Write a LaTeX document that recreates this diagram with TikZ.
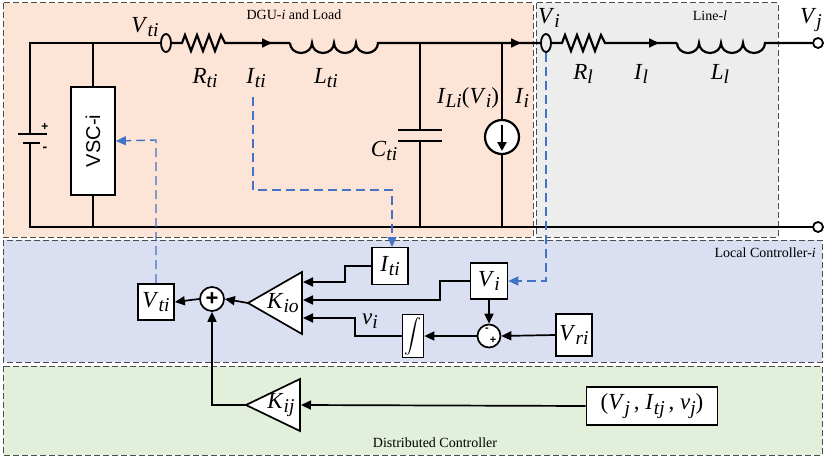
\documentclass[tikz,border=0pt]{standalone}
\usepackage{fontspec}
\setmainfont{Liberation Serif}
\newfontfamily\sansf{Liberation Sans}
\usetikzlibrary{arrows.meta}
\newcommand{\vs}[2]{\textit{#1}\raisebox{-0.4ex}{\scalebox{0.85}{\textit{#2}}}}
\begin{document}
\begin{tikzpicture}[x=1pt,y=-1pt,
  w/.style={line width=2.2pt},
  a/.style={line width=1.7pt,-{Triangle[length=10pt,width=9pt]}},
  bl/.style={draw={rgb,255:red,68;green,114;blue,196},line width=1.4pt,dash pattern=on 9pt off 5pt},
  bla/.style={bl,-{Triangle[length=10pt,width=9pt]}},
  reg/.style={draw=black!70,line width=1pt,dash pattern=on 6pt off 3pt},
  blk/.style={draw,line width=1.7pt,fill=white,inner sep=0pt},
  lb/.style={font=\fontsize{23}{23}\selectfont,inner sep=0pt},
  sm/.style={font=\fontsize{14}{14}\selectfont,inner sep=0pt}]
\useasboundingbox (0,0) rectangle (830,460);
% regions
\path[reg,fill={rgb,255:red,252;green,228;blue,214}] (3,3) rectangle (533,237);
\path[reg,fill={rgb,255:red,237;green,237;blue,237}] (536,3) rectangle (778,237);
\path[reg,fill={rgb,255:red,218;green,224;blue,242}] (3,240) rectangle (822,362);
\path[reg,fill={rgb,255:red,226;green,239;blue,218}] (3,366) rectangle (822,455);
\node[sm] (tdgu) at (294,15) {DGU-\textit{i} and Load};
\node[sm] (tline) at (710,16) {Line-\textit{l}};
\node[sm,anchor=east] (tloc) at (816,253) {Local Controller-\textit{i}};
\node[sm] (tdist) at (435,443) {Distributed Controller};
% coordinates
\coordinate (tl) at (30,43); \coordinate (bl) at (30,227);
\coordinate (tj) at (818,43); \coordinate (bj) at (818,227);
% wires
\draw[w] (30,134) -- (tl) -- (161,43);
\draw[w] (30,143) -- (bl) -- (812,227);
\draw[w] (18,134) -- (47,134);
\draw[w] (23,143) -- (40,143);
\node[font=\sansf\bfseries\fontsize{12}{12}\selectfont,inner sep=0pt] (plus) at (45,127) {+};
\node[font=\sansf\bfseries\fontsize{14}{14}\selectfont,inner sep=0pt] (minus) at (45,149) {-};
\node[blk,minimum width=108pt,minimum height=44pt,rotate=90,font=\sansf\fontsize{20}{20}\selectfont] (vsc) at (93,141) {VSC-i};
\draw[w] (93,43) -- (vsc.east); \draw[w] (vsc.west) -- (93,227);
% sensor Vti
\draw[line width=1.8pt] (166,43) ellipse (5 and 9);
\draw[w] (171,43) -- (182,43) -- (185,35) -- (191,51) -- (197,35) -- (203,51) -- (209,35) -- (215,51) -- (221,35) -- (225,43) -- (290,43);
\draw[a] (225,43) -- (272,43);
\draw[w] (290,43) arc(180:0:11 and 10) arc(180:0:11 and 10) arc(180:0:11 and 10) arc(180:0:11 and 10) -- (541,43);
\node[lb] (lvti) at (145,27) {\vs{V}{ti}};
\node[lb] (lrti) at (205,78) {\vs{R}{ti}};
\node[lb] (liti) at (256,78) {\vs{I}{ti}};
\node[lb] (llti) at (326,78) {\vs{L}{ti}};
% capacitor
\draw[w] (420,43) -- (420,130); \draw[w] (420,141) -- (420,227);
\draw[w] (398,130) -- (442,130); \draw[w] (398,141) -- (442,141);
\node[lb] (lcti) at (384,151) {\vs{C}{ti}};
% current source
\node[draw,circle,line width=2.2pt,minimum size=34pt,fill=white,inner sep=0pt] (cs) at (502,137) {};
\draw[w] (502,43) -- (cs.north); \draw[w] (cs.south) -- (502,227);
\draw[line width=2.2pt,-{Triangle[length=9pt,width=9pt]}] (502,125) -- (502,151);
\node[lb] (lili) at (468,98) {\vs{I}{Li}(\vs{V}{i})};
\node[lb] (lii) at (522,98) {\vs{I}{i}};
\draw[a] (480,43) -- (521,43);
% line
\draw[line width=1.8pt] (546,43) ellipse (5 and 9);
\draw[w] (551,43) -- (562,43) -- (565,35) -- (571,51) -- (577,35) -- (583,51) -- (589,35) -- (595,51) -- (601,35) -- (605,43) -- (677,43);
\draw[a] (605,43) -- (659,43);
\draw[w] (677,43) arc(180:0:11 and 10) arc(180:0:11 and 10) arc(180:0:11 and 10) arc(180:0:11 and 10) -- (812,43);
\draw[line width=1.8pt,fill=white] (tj) circle (5);
\draw[line width=1.8pt,fill=white] (bj) circle (5);
\node[lb] (lvi) at (549,18) {\vs{V}{i}};
\node[lb] (lrl) at (583,74) {\vs{R}{l}};
\node[lb] (lil) at (641,74) {\vs{I}{l}};
\node[lb] (lll) at (720,74) {\vs{L}{l}};
\node[lb] (lvj) at (811,20) {\vs{V}{j}};
% controller blocks
\node[blk,minimum width=36pt,minimum height=37pt,lb] (biti) at (390,266) {\vs{I}{ti}};
\node[blk,minimum width=37pt,minimum height=36pt,lb] (bvi) at (489,281) {\vs{V}{i}};
\node[blk,minimum width=36pt,minimum height=36pt,lb] (bvti) at (156,302) {\vs{V}{ti}};
\node[blk,minimum width=21pt,minimum height=43pt] (bint) at (413,336) {\scalebox{1.7}{$\displaystyle\int$}};
\node[blk,minimum width=36pt,minimum height=42pt,lb] (bvri) at (574,335) {\vs{V}{ri}};
\node[blk,minimum width=131pt,minimum height=38pt,lb] (bvj) at (652,406) {(\vs{V}{j}\,, \vs{I}{tj}\,, \vs{v}{j})};
\node[draw,circle,line width=1.7pt,minimum size=24pt,fill=white,inner sep=0pt,font=\sansf\bfseries\fontsize{22}{22}\selectfont] (sum) at (212,299) {+};
\node[draw,circle,line width=1.7pt,minimum size=23pt,fill=white,inner sep=0pt] (sub) at (489,336) {};
\node[font=\sansf\bfseries\fontsize{11}{11}\selectfont,inner sep=0pt] (subm) at (487,330) {-};
\node[font=\sansf\bfseries\fontsize{11}{11}\selectfont,inner sep=0pt] (subp) at (493,340) {+};
\draw[line width=1.7pt,fill=white] (248,303) -- (302,272) -- (302,334) -- cycle;
\node[lb] (kio) at (283,303) {\vs{K}{io}};
\coordinate (kiot) at (248,303);
\draw[line width=1.7pt,fill=white] (246,405) -- (300,379) -- (300,431) -- cycle;
\node[lb] (kij) at (281,405) {\vs{K}{ij}};
\coordinate (kijt) at (246,405);
% control connectors
\draw[a] (biti.west) -- (345,266) -- (345,282) -- (303,282);
\draw[a] (bvi.west) -- (440,281) -- (440,300) -- (303,300);
\draw[a] (bint.west) -- (355,336) -- (355,318) -- (303,318);
\node[lb] (lvsi) at (370,321) {\vs{v}{i}};
\draw[a] (bvi.south) -- (sub.north);
\draw[a] (bvri.west) -- (sub.east);
\draw[a] (sub.west) -- (bint.east);
\draw[a] (kiot) -- (sum.east);
\draw[a] (sum.west) -- (bvti.east);
\draw[a] (bvj.west) -- (301,405);
\draw[a] (kijt) -- (212,405) -- (sum.south);
% blue feedback
\draw[bla] (bvti.north) -- (156,140) -- (vsc.south);
\draw[bla] (253,97) -- (253,190) -- (392,190) -- (392,247);
\draw[bla] (546,53) -- (546,281) -- (bvi.east);
\end{tikzpicture}
\end{document}
